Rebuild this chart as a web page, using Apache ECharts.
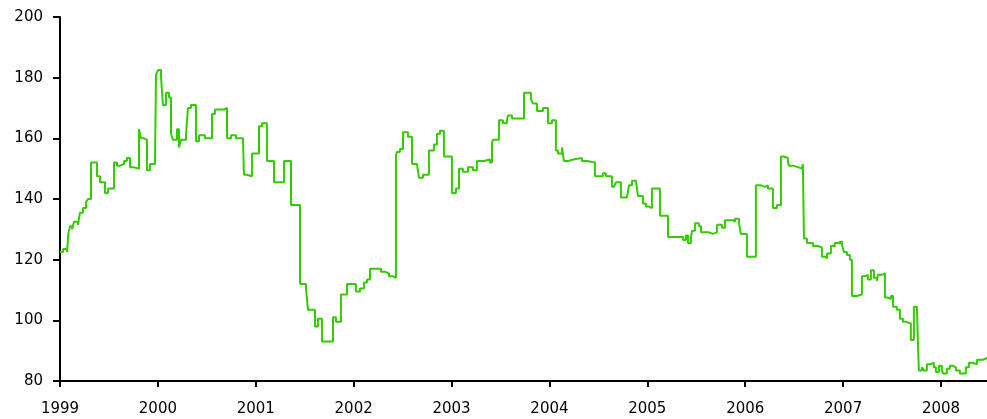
<!DOCTYPE html>
<html>
<head>
<meta charset="utf-8">
<script src="https://cdn.jsdelivr.net/npm/echarts@6/dist/echarts.min.js"></script>
<style>
html,body{margin:0;padding:0;background:#fff;}
#c{width:987px;height:419px;}
</style>
</head>
<body>
<div id="c"></div>
<script>
// decimal-year dates and values
const dates = [
1999.000,1999.031,1999.072,1999.085,1999.102,1999.123,1999.143,1999.184,1999.204,1999.235,
1999.266,1999.286,1999.317,1999.378,1999.409,1999.460,1999.490,1999.552,1999.582,1999.613,
1999.654,1999.684,1999.715,1999.746,1999.807,1999.827,1999.858,1999.889,1999.919,1999.970,
1999.981,2000.001,2000.032,2000.052,2000.083,2000.113,2000.134,2000.154,2000.195,2000.216,
2000.236,2000.287,2000.307,2000.338,2000.389,2000.420,2000.481,2000.553,2000.583,2000.675,
2000.706,2000.747,2000.798,2000.869,2000.879,2000.910,2000.961,2001.033,2001.063,2001.114,
2001.186,2001.288,2001.360,2001.452,2001.513,2001.533,2001.605,2001.635,2001.676,2001.789,
2001.819,2001.870,2001.932,2002.023,2002.064,2002.105,2002.136,2002.167,2002.279,2002.320,
2002.361,2002.401,2002.432,2002.442,2002.473,2002.504,2002.555,2002.596,2002.647,2002.667,
2002.708,2002.769,2002.820,2002.851,2002.882,2002.922,2003.004,2003.045,2003.076,2003.116,
2003.168,2003.219,2003.259,2003.331,2003.392,2003.413,2003.423,2003.484,2003.525,2003.566,
2003.576,2003.617,2003.740,2003.811,2003.831,2003.872,2003.934,2003.985,2004.026,2004.066,
2004.087,2004.128,2004.148,2004.189,2004.240,2004.332,2004.383,2004.465,2004.546,2004.577,
2004.638,2004.659,2004.679,2004.730,2004.792,2004.812,2004.843,2004.884,2004.904,2004.955,
2004.986,2005.017,2005.047,2005.129,2005.211,2005.364,2005.394,2005.415,2005.445,2005.456,
2005.486,2005.527,2005.548,2005.629,2005.670,2005.711,2005.762,2005.793,2005.874,2005.895,
2005.936,2005.956,2006.017,2006.109,2006.160,2006.201,2006.232,2006.283,2006.324,2006.365,
2006.395,2006.436,2006.446,2006.487,2006.538,2006.579,2006.589,2006.600,2006.630,2006.692,
2006.743,2006.783,2006.814,2006.835,2006.875,2006.916,2006.947,2006.988,2007.008,2007.039,
2007.069,2007.090,2007.141,2007.192,2007.223,2007.253,2007.284,2007.315,2007.345,2007.355,
2007.396,2007.427,2007.457,2007.488,2007.509,2007.549,2007.580,2007.611,2007.641,2007.692,
2007.723,2007.754,2007.764,2007.774,2007.805,2007.825,2007.856,2007.887,2007.927,2007.948,
2007.979,2008.009,2008.019,2008.060,2008.091,2008.122,2008.152,2008.193,2008.254,2008.285,
2008.326,2008.367,2008.428,2008.469
];
const values = [
122.5,123.5,122.5,128.5,131,130,132.5,131.5,135.5,137,
139,140,152,147.5,145.5,142,143.5,152,151,151.5,
152.5,153.5,150.5,150,163,160,159.5,149.5,151.5,152,
181,182.5,180,171,175,173.5,161.5,159.5,163,157,
159.5,161,170,171,159,161,160,168,169.5,170,
160,161,160,160.5,148,147.5,155,164,165,152.5,
145.5,152.5,138,112,110.5,103.5,98,100.5,93,101,
99.5,108.5,112,109.5,110.5,112.5,113.5,117,116,115.5,
114.5,114,154.5,155.5,156.5,162,160.5,151.5,152,147,
148,156,158,161.5,162.5,154,142,143.5,150,149,
150.5,149.5,152.5,153,152,158.5,159.5,166,165,166,
167.5,166.5,175,173,171.5,169,170,165,166,156,
155,157,152.5,153,153.5,152.5,152,147.5,148.5,147.5,
144,143.5,145.5,140.5,140,144.5,146,146.5,141,138.5,
137.5,137,143.5,134.5,127.5,126.5,128,125.5,127,129.5,
132,131,129,128.5,129,131.5,130.5,133,132.5,133.5,
132,128.5,121,144.5,144,144.5,143.5,137,138,154,
153.5,152.5,151,150.5,150,149.5,151.5,127,125.5,124.5,
124,121,120.5,122,124.5,125.5,126,125,122.5,121.5,
120,108,108.5,114.5,115,113.5,116.5,114,113,115,
115.5,107.5,107,108,104.5,103.5,100.5,99.5,99,93.5,
104.5,104.5,93,83.5,84.5,83.5,85.5,86,84.5,83,
85,83.5,82.5,84,85,84.5,83.5,82.5,84.5,86,
85.5,87,87.5,88
];
const yTicks = [80,100,120,140,160,180,200];
const xStart = 1999, xEnd = 2008.47;

const seriesData = dates.map((d,i)=>[d, values[i]]);
const chart = echarts.init(document.getElementById('c'), null, {renderer:'canvas'});
const labelFont = {color:'#000', fontFamily:'DejaVu Sans, Arial, sans-serif', fontSize:15};
chart.setOption({
  animation:false,
  backgroundColor:'#fff',
  grid:{left:60, right:0, top:17, bottom:38, containLabel:false},
  xAxis:{
    type:'value', min:xStart, max:xEnd, interval:1,
    axisLine:{lineStyle:{color:'#000', width:2}},
    axisTick:{show:true, length:6, lineStyle:{color:'#000', width:2}},
    axisLabel:Object.assign({margin:21, showMaxLabel:false, formatter:v=>String(Math.round(v))}, labelFont),
    splitLine:{show:false}
  },
  yAxis:{
    type:'value', min:yTicks[0], max:yTicks[yTicks.length-1], interval:20,
    axisLine:{show:true, lineStyle:{color:'#000', width:2}},
    axisTick:{show:true, length:7, lineStyle:{color:'#000', width:2}},
    axisLabel:Object.assign({margin:17}, labelFont),
    splitLine:{show:false}
  },
  series:[{
    type:'line', step:'end', data:seriesData, showSymbol:false, symbol:'none',
    lineStyle:{color:'#33cc00', width:2},
    clip:true
  }]
});
</script>
</body>
</html>
